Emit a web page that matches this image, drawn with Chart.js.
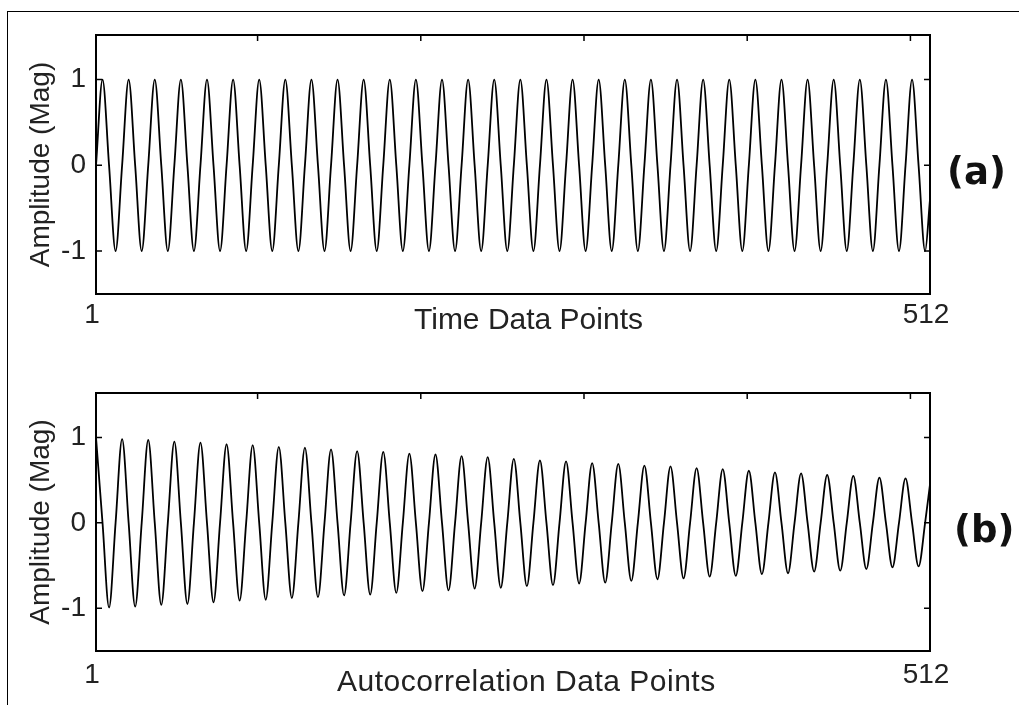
<!DOCTYPE html>
<html>
<head>
<meta charset="utf-8">
<title>Time signal and autocorrelation</title>
<script src="https://cdn.jsdelivr.net/npm/chart.js@4"></script>
<style>
  html, body { margin: 0; padding: 0; background: #fff; width: 1019px; height: 705px; overflow: hidden; }
  #frame { position: absolute; left: 7px; top: 11px; width: 1100px; height: 800px; border: 1px solid #000; }
  .panel { position: absolute; left: 0; width: 1019px; }
  #panelA { top: 0; height: 352px; }
  #panelB { top: 352px; height: 353px; }
  .tag { position: absolute; font: bold 37px "DejaVu Sans", sans-serif; color: #111; line-height: 1; }
  .xtitle { position: absolute; font: 30px "Liberation Sans", Arial, sans-serif; color: #222; line-height: 30px; white-space: nowrap; }
</style>
</head>
<body>
<div id="frame"></div>
<div class="panel" id="panelA"><canvas id="timeChart"></canvas></div>
<div class="panel" id="panelB"><canvas id="autoChart"></canvas></div>
<div class="xtitle" style="left:414px;top:304px">Time Data Points</div>
<div class="xtitle" style="left:337px;top:666px;letter-spacing:0.5px">Autocorrelation Data Points</div>
<div class="tag" style="left:947px;top:153px">(a)</div>
<div class="tag" style="left:954px;top:511px">(b)</div>
<script>
// sample index of each point (peaks, zero crossings, troughs)
const SAMPLE_POS = [
  1, 5, 9, 13, 17, 21, 25, 29, 33, 37, 41, 45, 49, 53, 57, 61,
  65, 69, 73, 77, 81, 85, 89, 93, 97, 101, 105, 109, 113, 117, 121, 125,
  129, 133, 137, 141, 145, 149, 153, 157, 161, 165, 169, 173, 177, 181, 185, 189,
  193, 197, 201, 205, 209, 213, 217, 221, 225, 229, 233, 237, 241, 245, 249, 253,
  257, 261, 265, 269, 273, 277, 281, 285, 289, 293, 297, 301, 305, 309, 313, 317,
  321, 325, 329, 333, 337, 341, 345, 349, 353, 357, 361, 365, 369, 373, 377, 381,
  385, 389, 393, 397, 401, 405, 409, 413, 417, 421, 425, 429, 433, 437, 441, 445,
  449, 453, 457, 461, 465, 469, 473, 477, 481, 485, 489, 493, 497, 501, 505, 509,
  512
];

// (a) time signal
const TIME_AMP = [
  0, 1, 0, -1, 0, 1, 0, -1, 0, 1, 0, -1, 0, 1, 0, -1,
  0, 1, 0, -1, 0, 1, 0, -1, 0, 1, 0, -1, 0, 1, 0, -1,
  0, 1, 0, -1, 0, 1, 0, -1, 0, 1, 0, -1, 0, 1, 0, -1,
  0, 1, 0, -1, 0, 1, 0, -1, 0, 1, 0, -1, 0, 1, 0, -1,
  0, 1, 0, -1, 0, 1, 0, -1, 0, 1, 0, -1, 0, 1, 0, -1,
  0, 1, 0, -1, 0, 1, 0, -1, 0, 1, 0, -1, 0, 1, 0, -1,
  0, 1, 0, -1, 0, 1, 0, -1, 0, 1, 0, -1, 0, 1, 0, -1,
  0, 1, 0, -1, 0, 1, 0, -1, 0, 1, 0, -1, 0, 1, 0, -1,
  -0.4
];

// (b) autocorrelation
const AUTO_AMP = [
  1.00, 0, -0.99, 0, 0.98, 0, -0.98, 0, 0.97, 0, -0.96, 0, 0.95, 0, -0.95, 0,
  0.94, 0, -0.93, 0, 0.92, 0, -0.91, 0, 0.91, 0, -0.90, 0, 0.89, 0, -0.88, 0,
  0.88, 0, -0.87, 0, 0.86, 0, -0.85, 0, 0.84, 0, -0.84, 0, 0.83, 0, -0.82, 0,
  0.81, 0, -0.80, 0, 0.80, 0, -0.79, 0, 0.78, 0, -0.77, 0, 0.77, 0, -0.76, 0,
  0.75, 0, -0.74, 0, 0.73, 0, -0.73, 0, 0.72, 0, -0.71, 0, 0.70, 0, -0.70, 0,
  0.69, 0, -0.68, 0, 0.67, 0, -0.66, 0, 0.66, 0, -0.65, 0, 0.64, 0, -0.63, 0,
  0.63, 0, -0.62, 0, 0.61, 0, -0.60, 0, 0.59, 0, -0.59, 0, 0.58, 0, -0.57, 0,
  0.56, 0, -0.56, 0, 0.55, 0, -0.54, 0, 0.53, 0, -0.52, 0, 0.52, 0, -0.51, 0,
  0.45
];

const X_TICKS = [1, 512];
const TOP_TICKS = [100, 200, 300, 400, 500];
const Y_TICKS = [-1, 0, 1];

const LABEL_FONT = { family: '"Liberation Sans", Arial, sans-serif', size: 28 };
const TEXT_COLOR = '#222';

// axes box with inward tick marks on the top, left and right sides
const boxPlugin = {
  id: 'boxPlugin',
  afterDraw(chart) {
    const { ctx, chartArea: a, scales: { x, y } } = chart;
    ctx.save();
    ctx.strokeStyle = '#000';
    ctx.lineWidth = 2;
    ctx.strokeRect(a.left, a.top, a.right - a.left, a.bottom - a.top);
    ctx.lineWidth = 1.5;
    ctx.beginPath();
    TOP_TICKS.forEach(v => {
      const px = x.getPixelForValue(v);
      ctx.moveTo(px, a.top);
      ctx.lineTo(px, a.top + 6);
    });
    Y_TICKS.forEach(v => {
      const py = y.getPixelForValue(v);
      ctx.moveTo(a.left, py);
      ctx.lineTo(a.left + 6, py);
      ctx.moveTo(a.right, py);
      ctx.lineTo(a.right - 6, py);
    });
    ctx.stroke();
    ctx.restore();
  }
};

function makeChart(id, values, padTop, xAxisHeight, tickPad) {
  const points = SAMPLE_POS.map((p, i) => ({ x: p, y: values[i] }));
  return new Chart(document.getElementById(id), {
    type: 'line',
    data: {
      datasets: [{
        data: points,
        borderColor: '#000',
        borderWidth: 1.8,
        pointRadius: 0,
        cubicInterpolationMode: 'monotone',
        fill: false
      }]
    },
    options: {
      responsive: true,
      maintainAspectRatio: false,
      animation: false,
      events: [],
      layout: { padding: { left: 7, top: padTop, right: 89, bottom: 0 } },
      plugins: { legend: { display: false }, tooltip: { enabled: false } },
      scales: {
        x: {
          type: 'linear',
          min: 1,
          max: 512,
          afterBuildTicks: s => { s.ticks = X_TICKS.map(v => ({ value: v })); },
          afterFit: s => { s.height = xAxisHeight; s.paddingLeft = 0; s.paddingRight = 0; },
          grid: { display: false, drawTicks: false },
          border: { display: false },
          ticks: { color: TEXT_COLOR, font: LABEL_FONT, padding: tickPad, labelOffset: -4, maxRotation: 0 }
        },
        y: {
          min: -1.5,
          max: 1.52,
          afterBuildTicks: s => { s.ticks = Y_TICKS.map(v => ({ value: v })); },
          afterFit: s => { s.width = 89; s.paddingTop = 0; s.paddingBottom = 0; },
          grid: { display: false, drawTicks: false },
          border: { display: false },
          ticks: { color: TEXT_COLOR, font: LABEL_FONT, padding: 10 },
          title: { display: true, text: 'Amplitude (Mag)', color: TEXT_COLOR, font: LABEL_FONT, padding: { top: 17, bottom: 0 } }
        }
      }
    },
    plugins: [boxPlugin]
  });
}

makeChart('timeChart', TIME_AMP, 35, 58, 4);
makeChart('autoChart', AUTO_AMP, 41, 54, 7);
</script>
</body>
</html>
